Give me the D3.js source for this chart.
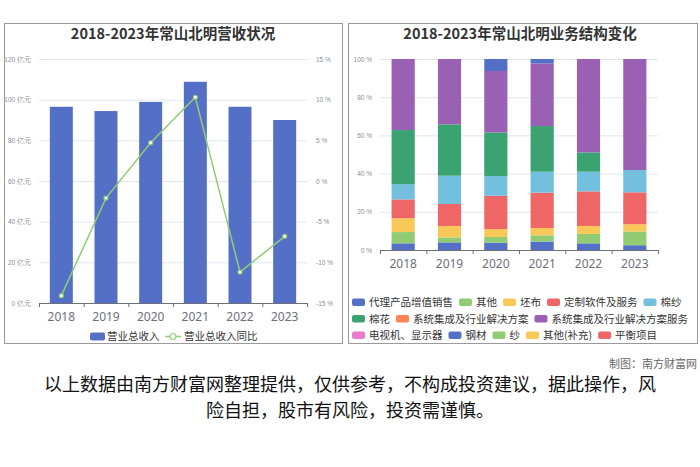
<!DOCTYPE html>
<html>
<head>
<meta charset="utf-8">
<script src="https://cdn.jsdelivr.net/npm/d3@7"></script>
<style>
  body { margin: 0; background: #fff; }
  svg { display: block; font-family: "Noto Sans CJK SC", "Noto Sans", sans-serif; }
</style>
</head>
<body>
<svg id="chart" width="700" height="467"></svg>
<script>
// ---- data ----
var years = ["2018", "2019", "2020", "2021", "2022", "2023"];
var revenue = [96.5, 94.4, 98.9, 108.8, 96.5, 90.0];          // 亿元
var revenueYoY = [-14.1, -2.1, 4.7, 10.3, -11.2, -6.8];       // %
var revTicks = [0, 20, 40, 60, 80, 100, 120];
var yoyTicks = [-15, -10, -5, 0, 5, 10, 15];
var shareTicks = [0, 20, 40, 60, 80, 100];

var segNames = ["代理产品增值销售", "其他", "坯布", "定制软件及服务", "棉纱", "棉花",
  "系统集成及行业解决方案", "系统集成及行业解决方案服务", "电视机、显示器", "钢材", "纱", "其他(补充)", "平衡项目"];
var segDaili   = [3.5, 4.0, 3.8, 4.4, 3.5, 2.5];
var segQita    = [5.9, 2.6, 3.0, 3.3, 4.9, 7.1];
var segPibu    = [7.2, 6.0, 4.2, 3.8, 4.2, 3.9];
var segRuanjian = [9.9, 11.5, 17.4, 18.5, 18.1, 16.7];
var segMiansha = [8.0, 14.8, 10.3, 11.0, 10.3, 11.7];
var segMianhua = [28.3, 26.9, 22.9, 23.9, 10.1, 0];
var segXitong  = [0, 0, 0, 0, 0, 0];
var segXitongFw = [37.2, 34.2, 32.1, 32.8, 48.9, 58.1];
var segDianshi = [0, 0, 0, 0, 0, 0];
var segGangcai = [0, 0, 6.3, 2.3, 0, 0];
var segSha     = [0, 0, 0, 0, 0, 0];
var segQitaBc  = [0, 0, 0, 0, 0, 0];
var segPingheng = [0, 0, 0, 0, 0, 0];
var segValues = [segDaili, segQita, segPibu, segRuanjian, segMiansha, segMianhua,
  segXitong, segXitongFw, segDianshi, segGangcai, segSha, segQitaBc, segPingheng];

var palette = ["#5470c6", "#91cc75", "#fac858", "#ee6666", "#73c0de", "#3ba272", "#fc8452", "#9a60b4", "#ea7ccc"];
var segColor = function(i){ return palette[i % palette.length]; };

var svg = d3.select("#chart");
var axisColor = "#6e7079", gridColor = "#e0e6f1", labelColor = "#8a8d96";

// panels
svg.append("rect").attr("x", 4.5).attr("y", 23.5).attr("width", 338).attr("height", 320)
  .attr("fill", "#fff").attr("stroke", "#9a9a9a");
svg.append("rect").attr("x", 348.5).attr("y", 23.5).attr("width", 349).attr("height", 320)
  .attr("fill", "#fff").attr("stroke", "#9a9a9a");

function title(txt, cx){
  svg.append("text").attr("x", cx).attr("y", 39).attr("text-anchor", "middle")
    .attr("font-size", 14.5).attr("font-weight", "bold").attr("fill", "#333").text(txt);
}
title("2018-2023年常山北明营收状况", 173);
title("2018-2023年常山北明业务结构变化", 520);

// category x-axis helper (labels centred, ticks on boundaries)
function catAxis(g, x, yPos){
  var r = x.range();
  var b = d3.scaleLinear().domain([0, years.length]).range(r);
  g.append("g").attr("transform", "translate(0," + yPos + ")")
    .call(d3.axisBottom(b).ticks(years.length).tickValues(d3.range(years.length + 1)).tickFormat("").tickSize(4).tickSizeOuter(0))
    .call(function(a){ a.selectAll("line,path").attr("stroke", axisColor); });
  var lab = g.append("g").attr("transform", "translate(0," + yPos + ")")
    .call(d3.axisBottom(x).tickSize(0).tickPadding(9))
    .call(function(a){ a.select(".domain").remove(); });
  lab.selectAll("text").attr("font-family", "Noto Sans, sans-serif").attr("font-size", 12).attr("fill", axisColor);
}

function grid(g, y, ticks, x0, x1){
  g.append("g").selectAll("line").data(ticks).join("line")
    .attr("x1", x0).attr("x2", x1).attr("y1", function(d){ return y(d) + 0.5; }).attr("y2", function(d){ return y(d) + 0.5; })
    .attr("stroke", gridColor);
}

// ---- left: revenue ----
var L = {x0: 39, x1: 307, y0: 303, y1: 59};
var xL = d3.scaleBand().domain(years).range([L.x0, L.x1]).paddingInner(0.485).paddingOuter(0.2425);
var yRev = d3.scaleLinear().domain([0, 120]).range([L.y0, L.y1]);
var yYoy = d3.scaleLinear().domain([-15, 15]).range([L.y0, L.y1]);
var gL = svg.append("g");
grid(gL, yRev, revTicks.slice(1), L.x0, L.x1);

gL.append("g").attr("transform", "translate(" + (L.x0 - 5) + ",0)")
  .call(d3.axisLeft(yRev).tickValues(revTicks).tickSize(0).tickFormat(function(d){ return d + " 亿元"; }))
  .call(function(a){ a.select(".domain").remove(); a.selectAll("text").attr("font-size", 6.5).attr("fill", labelColor); });
gL.append("g").attr("transform", "translate(" + (L.x1 + 6) + ",0)")
  .call(d3.axisRight(yYoy).tickValues(yoyTicks).tickSize(0).tickFormat(function(d){ return d + " %"; }))
  .call(function(a){ a.select(".domain").remove(); a.selectAll("text").attr("font-size", 6.5).attr("fill", labelColor); });

gL.selectAll(".bar").data(years).join("rect").attr("class", "bar")
  .attr("x", function(d){ return xL(d); }).attr("width", xL.bandwidth())
  .attr("y", function(d, i){ return yRev(revenue[i]); })
  .attr("height", function(d, i){ return L.y0 - yRev(revenue[i]); })
  .attr("fill", palette[0]);

var line = d3.line().x(function(d, i){ return xL(years[i]) + xL.bandwidth() / 2; }).y(function(d){ return yYoy(d); });
gL.append("path").datum(revenueYoY).attr("d", line).attr("fill", "none").attr("stroke", palette[1]).attr("stroke-width", 1.5);
gL.selectAll(".pt").data(revenueYoY).join("circle").attr("class", "pt")
  .attr("cx", function(d, i){ return xL(years[i]) + xL.bandwidth() / 2; }).attr("cy", function(d){ return yYoy(d); })
  .attr("r", 2).attr("fill", "#fff").attr("stroke", palette[1]).attr("stroke-width", 1.2);
catAxis(gL, xL, L.y0);

// left legend
var lg = svg.append("g").attr("font-size", 10.5).attr("fill", "#333");
lg.append("rect").attr("x", 90).attr("y", 332.5).attr("width", 15).attr("height", 8).attr("rx", 2).attr("fill", palette[0]);
lg.append("text").attr("x", 107).attr("y", 340).text("营业总收入");
lg.append("line").attr("x1", 165).attr("x2", 181).attr("y1", 336.5).attr("y2", 336.5).attr("stroke", palette[1]).attr("stroke-width", 1.5);
lg.append("circle").attr("cx", 173).attr("cy", 336.5).attr("r", 3).attr("fill", "#fff").attr("stroke", palette[1]).attr("stroke-width", 1.2);
lg.append("text").attr("x", 184).attr("y", 340).text("营业总收入同比");

// ---- right: business structure ----
var R = {x0: 380, x1: 658, y0: 250, y1: 59};
var xR = d3.scaleBand().domain(years).range([R.x0, R.x1]).paddingInner(0.5).paddingOuter(0.25);
var yS = d3.scaleLinear().domain([0, 100]).range([R.y0, R.y1]);
var gR = svg.append("g");
grid(gR, yS, shareTicks.slice(1), R.x0, R.x1);
gR.append("g").attr("transform", "translate(" + (R.x0 - 5) + ",0)")
  .call(d3.axisLeft(yS).tickValues(shareTicks).tickSize(0).tickFormat(function(d){ return d + " %"; }))
  .call(function(a){ a.select(".domain").remove(); a.selectAll("text").attr("font-size", 6.5).attr("fill", labelColor); });

var rows = years.map(function(y, i){
  var o = {year: y};
  segNames.forEach(function(n, k){ o[n] = segValues[k][i]; });
  return o;
});
var stacked = d3.stack().keys(segNames)(rows);
gR.selectAll(".seg").data(stacked).join("g").attr("class", "seg")
  .attr("fill", function(d, k){ return segColor(k); })
  .selectAll("rect").data(function(d){ return d.filter(function(p){ return p[1] - p[0] > 0; }); }).join("rect")
  .attr("x", function(p){ return xR(p.data.year); }).attr("width", xR.bandwidth())
  .attr("y", function(p){ return yS(p[1]); }).attr("height", function(p){ return yS(p[0]) - yS(p[1]); });
catAxis(gR, xR, R.y0);

// right legend, wraps like the original
var rl = svg.append("g").attr("font-size", 10.5).attr("fill", "#333");
var lx = 352, ly = 302, maxX = 692;
segNames.forEach(function(n, k){
  var t = rl.append("text").attr("y", ly + 4).text(n);
  var w = t.node().getComputedTextLength();
  if (lx + 17 + w > maxX) { lx = 352; ly += 16.5; t.attr("y", ly + 4); }
  rl.append("rect").attr("x", lx).attr("y", ly - 3.5).attr("width", 13).attr("height", 7.5).attr("rx", 2).attr("fill", segColor(k));
  t.attr("x", lx + 17);
  lx += 17 + w + 6;
});

// footer
svg.append("text").attr("x", 697).attr("y", 368).attr("text-anchor", "end")
  .attr("font-size", 11).attr("fill", "#666").text("制图：南方财富网");
var foot = svg.append("g").attr("font-size", 18).attr("fill", "#111").attr("text-anchor", "middle");
foot.append("text").attr("x", 350).attr("y", 391).text("以上数据由南方财富网整理提供，仅供参考，不构成投资建议，据此操作，风");
foot.append("text").attr("x", 350).attr("y", 417).text("险自担，股市有风险，投资需谨慎。");
</script>
</body>
</html>
